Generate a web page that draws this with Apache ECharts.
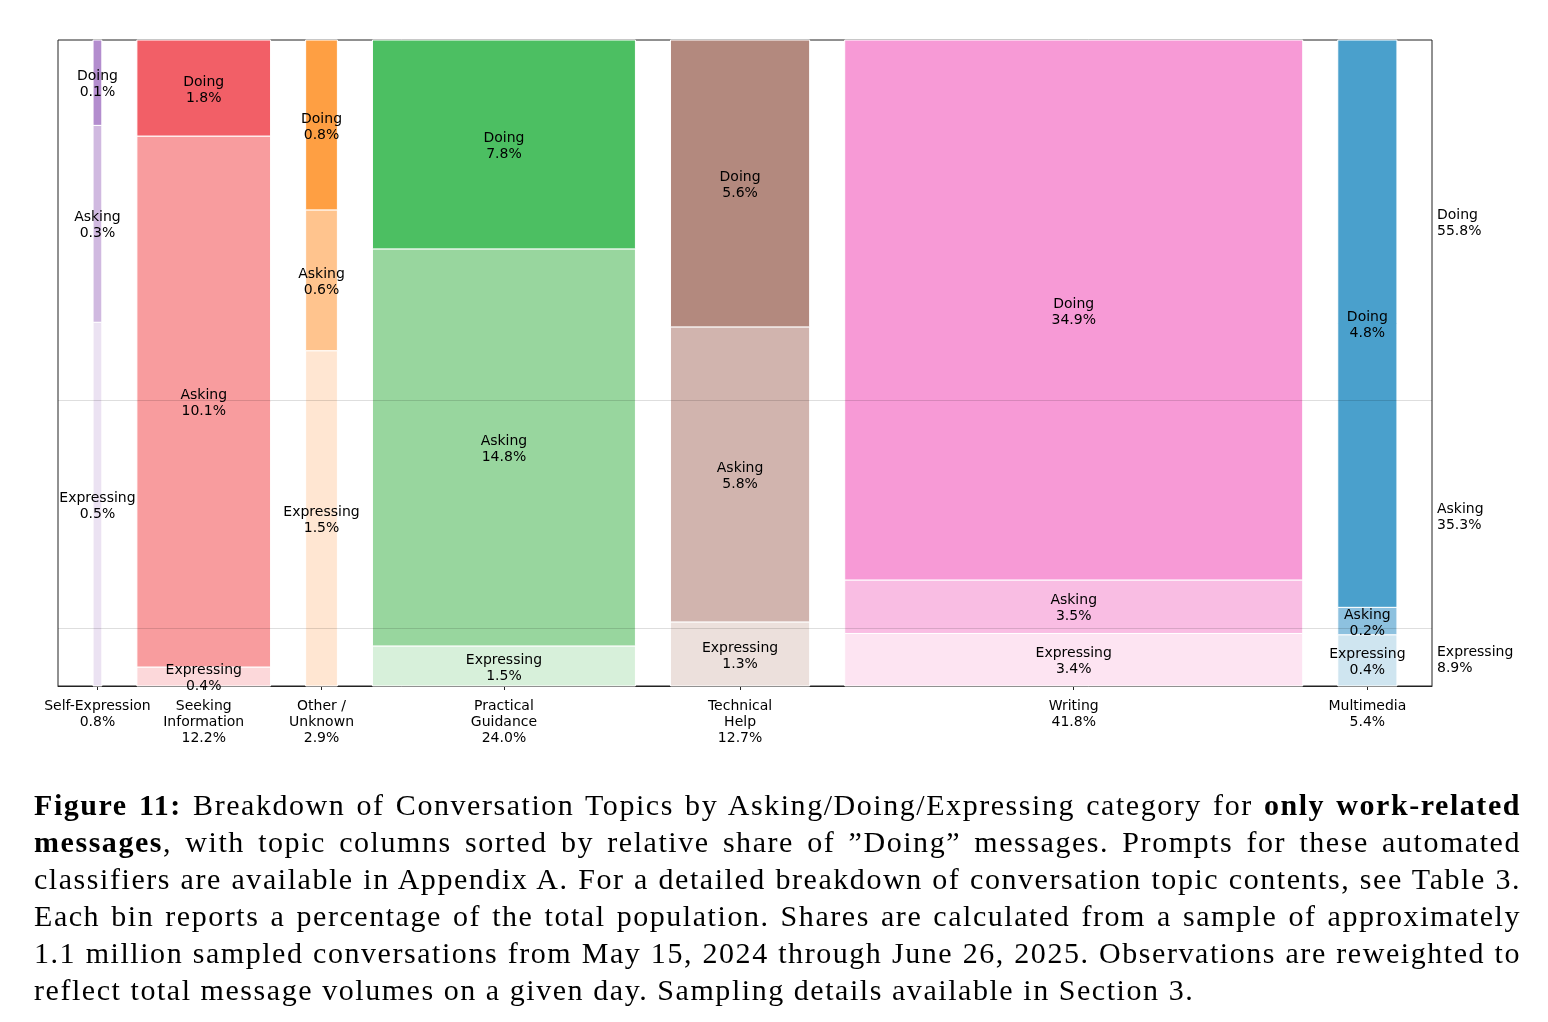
<!DOCTYPE html>
<html>
<head>
<meta charset="utf-8">
<script src="https://cdn.jsdelivr.net/npm/echarts@6/dist/echarts.min.js"></script>
<style>
  html, body { margin: 0; padding: 0; background: #fff; }
  #chart-container { position: absolute; left: 0; top: 0; width: 1548px; height: 1022px; }
  #caption {
    position: absolute; left: 34px; top: 786px; width: 1487px;
    font-family: 'Liberation Serif', serif; font-size: 30px; line-height: 37px; color: #000;
    letter-spacing: 1.55px;
  }
  #caption div { text-align: justify; text-align-last: justify; white-space: nowrap; }
  #caption div.last { text-align-last: left; }
</style>
</head>
<body>
<div id="chart-container"></div>
<div id="caption">
  <div><b>Figure 11:</b> Breakdown of Conversation Topics by Asking/Doing/Expressing category for <b>only work-related</b></div>
  <div><b>messages</b>, with topic columns sorted by relative share of ”Doing” messages. Prompts for these automated</div>
  <div>classifiers are available in Appendix A. For a detailed breakdown of conversation topic contents, see Table 3.</div>
  <div>Each bin reports a percentage of the total population. Shares are calculated from a sample of approximately</div>
  <div>1.1 million sampled conversations from May 15, 2024 through June 26, 2025. Observations are reweighted to</div>
  <div class="last">reflect total message volumes on a given day. Sampling details available in Section 3.</div>
</div>
<script>
// topic columns, sorted by relative share of "Doing"
let categories = ['Self-Expression', 'Seeking\nInformation', 'Other /\nUnknown', 'Practical\nGuidance', 'Technical\nHelp', 'Writing', 'Multimedia'];
let shares = [0.8, 12.2, 2.9, 24.0, 12.7, 41.8, 5.4]; // % of all messages (column width)
let doing = [0.111, 1.82, 0.76, 7.77, 5.64, 34.94, 4.76];
let asking = [0.256, 10.06, 0.63, 14.77, 5.80, 3.46, 0.23];
let expressing = [0.473, 0.36, 1.50, 1.49, 1.26, 3.40, 0.43];
let levels = ['Expressing', 'Asking', 'Doing']; // bottom to top
let overall = [8.9, 35.3, 55.8]; // Expressing, Asking, Doing

function init() {
  let palette = [
    ['#ebe2f2', '#d0b9e0', '#b38dce'],
    ['#fcd8da', '#f89c9e', '#f25f67'],
    ['#ffe6d2', '#ffc48e', '#fe9f43'],
    ['#d7f0da', '#98d69e', '#4cbf62'],
    ['#ece0dc', '#d1b4ae', '#b3897e'],
    ['#fde4f2', '#f9bde3', '#f79ad6'],
    ['#cfe5f0', '#8dc1df', '#4aa0cc'],
  ];
  let gap = 3.2; // spacing between columns, in % units
  let font = 'DejaVu Sans';

  let segs = [];
  let centers = [];
  let x = gap;
  categories.forEach((cat, i) => {
    let vals = [expressing[i], asking[i], doing[i]];
    let sum = vals[0] + vals[1] + vals[2];
    let y = 0;
    vals.forEach((v, li) => {
      let h = (v / sum) * 100;
      segs.push({ value: [x, x + shares[i], y, y + h, i, li], pct: v });
      y += h;
    });
    centers.push(x + shares[i] / 2);
    x += shares[i] + gap;
  });
  let xMax = x;

  // overall bands for right side labels
  let cum = 0;
  let bandMids = [];
  let bandEdges = [];
  overall.forEach((v) => {
    bandMids.push(cum + v / 2);
    cum += v;
    bandEdges.push(cum);
  });

  let option = {
    animation: false,
    grid: {
      left: 58,
      right: 116,
      top: 40,
      bottom: 336,
      show: true,
      borderColor: '#222',
      borderWidth: 1,
    },
    xAxis: {
      type: 'value',
      min: 0,
      max: xMax,
      splitLine: { show: false },
      axisLine: { show: true, lineStyle: { color: '#222' } },
      axisTick: {
        show: true,
        customValues: centers,
        length: 4,
        lineStyle: { color: '#222' },
      },
      axisLabel: {
        customValues: centers,
        margin: 12,
        color: '#000',
        fontFamily: font,
        fontSize: 14,
        lineHeight: 16,
        verticalAlign: 'top',
        formatter: function (v) {
          let i = centers.findIndex((c) => Math.abs(c - v) < 0.01);
          return i < 0 ? '' : categories[i] + '\n' + shares[i].toFixed(1) + '%';
        },
      },
    },
    yAxis: [
      {
        type: 'value',
        min: 0,
        max: 100,
        axisLine: { show: false },
        axisTick: { show: false },
        axisLabel: { show: false },
        splitLine: { show: false },
      },
      {
        type: 'value',
        position: 'right',
        min: 0,
        max: 100,
        axisLine: { show: false },
        axisTick: { show: false },
        splitLine: { show: false },
        axisLabel: {
          customValues: bandMids,
          margin: 5,
          align: 'left',
          color: '#000',
          fontFamily: font,
          fontSize: 14,
          lineHeight: 16,
          formatter: function (v) {
            let i = bandMids.findIndex((c) => Math.abs(c - v) < 0.01);
            if (i < 0) return '';
            // small spacer line nudges the pair down a few pixels
            return '{s| }\n{t|' + levels[i] + '}\n{t|' + overall[i].toFixed(1) + '%}';
          },
          rich: {
            s: { fontSize: 1, lineHeight: 6, height: 6 },
            t: { fontFamily: font, fontSize: 14, lineHeight: 16, color: '#000' },
          },
        },
      },
    ],
    series: [
      {
        type: 'custom',
        renderItem: function (params, api) {
          let p0 = api.coord([api.value(0), api.value(3)]);
          let p1 = api.coord([api.value(1), api.value(2)]);
          let ci = api.value(4);
          let li = api.value(5);
          let seg = segs[params.dataIndex];
          return {
            type: 'rect',
            shape: { x: p0[0], y: p0[1], width: p1[0] - p0[0], height: p1[1] - p0[1] },
            style: { fill: palette[ci][li], stroke: '#fff', lineWidth: 1 },
            textContent: {
              style: {
                text: levels[li] + '\n' + seg.pct.toFixed(1) + '%',
                fill: '#000',
                fontFamily: font,
                fontSize: 14,
                lineHeight: 16,
                align: 'center',
                verticalAlign: 'middle',
              },
              z2: 10,
            },
            textConfig: { position: 'inside', offset: [0, 2] },
          };
        },
        encode: { x: [0, 1], y: [2, 3] },
        data: segs.map((s) => s.value),
        z: 2,
      },
      {
        type: 'line',
        data: [],
        z: 5,
        markLine: {
          silent: true,
          symbol: 'none',
          label: { show: false },
          lineStyle: { color: 'rgba(0,0,0,0.13)', width: 1, type: 'solid' },
          data: bandEdges.slice(0, 2).map((v) => ({ yAxis: v })),
        },
      },
    ],
  };

  var myChart = echarts.init(document.getElementById('chart-container'));
  myChart.setOption(option);
  window.addEventListener('resize', myChart.resize);
}
init();
</script>
</body>
</html>
